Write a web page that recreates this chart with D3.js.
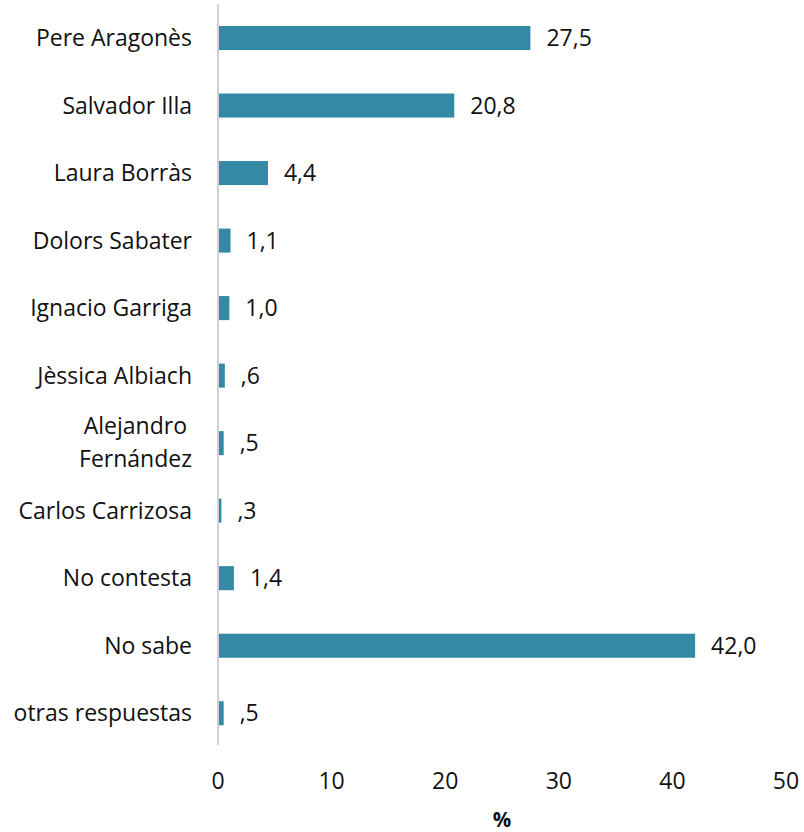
<!DOCTYPE html>
<html>
<head>
<meta charset="utf-8">
<script src="https://cdn.jsdelivr.net/npm/d3@7"></script>
<style>
  body { margin: 0; background: #fff; }
  text { font-family: "Open Sans", Lato, sans-serif; fill: #111; }
</style>
</head>
<body>
<div id="chart"></div>
<script>
const categories = [
  "Pere Aragonès", "Salvador Illa", "Laura Borràs", "Dolors Sabater",
  "Ignacio Garriga", "Jèssica Albiach", "Alejandro Fernández",
  "Carlos Carrizosa", "No contesta", "No sabe", "otras respuestas"
];
const values = [27.5, 20.8, 4.4, 1.1, 1.0, 0.6, 0.5, 0.3, 1.4, 42.0, 0.5];
const xTicks = [0, 10, 20, 30, 40, 50];

const w = 804, h = 832;
const margin = { top: 4.25, right: 18, bottom: 85, left: 218 };
const fs = 23;

const svg = d3.select("#chart").append("svg")
    .attr("width", w)
    .attr("height", h);

const x = d3.scaleLinear()
    .domain([0, 50])
    .range([margin.left, w - margin.right]);

const y = d3.scaleBand()
    .domain(categories)
    .range([margin.top, h - margin.bottom])
    .paddingInner(0.644)
    .paddingOuter(0.322);

// comma decimals, no leading zero (like the source)
const fmt = v => {
    const s = v.toFixed(1).replace(".", ",");
    return v < 1 ? s.replace(/^0/, "") : s;
};

// bars
svg.selectAll("rect.bar")
    .data(values)
    .enter()
    .append("rect")
    .attr("class", "bar")
    .attr("x", x(0))
    .attr("y", (d, i) => y(categories[i]))
    .attr("width", d => x(d) - x(0))
    .attr("height", y.bandwidth())
    .attr("fill", "#3489a4");

// value labels
svg.selectAll("text.val")
    .data(values)
    .enter()
    .append("text")
    .attr("class", "val")
    .attr("x", d => x(d) + 16)
    .attr("y", (d, i) => y(categories[i]) + y.bandwidth() / 2 + 8)
    .attr("font-size", fs)
    .text(fmt);

// axis line
svg.append("line")
    .attr("x1", x(0))
    .attr("x2", x(0))
    .attr("y1", y.range()[0])
    .attr("y2", y.range()[1] - 2)
    .attr("stroke", "#d0d0d0")
    .attr("stroke-width", 2);

// category labels
const lab = svg.selectAll("text.cat")
    .data(categories)
    .enter()
    .append("text")
    .attr("class", "cat")
    .attr("text-anchor", "end")
    .attr("font-size", fs)
    .attr("y", d => y(d) + y.bandwidth() / 2);

lab.each(function(d) {
    const t = d3.select(this);
    if (d === "Alejandro Fernández") {
        t.append("tspan").attr("x", 187).attr("dy", -9).text("Alejandro");
        t.append("tspan").attr("x", 192).attr("dy", 33).text("Fernández");
    } else {
        t.attr("x", 192).attr("dy", 8).text(d);
    }
});

// x tick labels
svg.selectAll("text.tick")
    .data(xTicks)
    .enter()
    .append("text")
    .attr("class", "tick")
    .attr("x", d => x(d))
    .attr("y", 789)
    .attr("text-anchor", "middle")
    .attr("font-size", fs)
    .text(d => d);

svg.append("text")
    .attr("x", (x(0) + x(50)) / 2)
    .attr("y", 827)
    .attr("text-anchor", "middle")
    .attr("font-size", 20.5)
    .attr("font-weight", "bold")
    .text("%");
</script>
</body>
</html>
